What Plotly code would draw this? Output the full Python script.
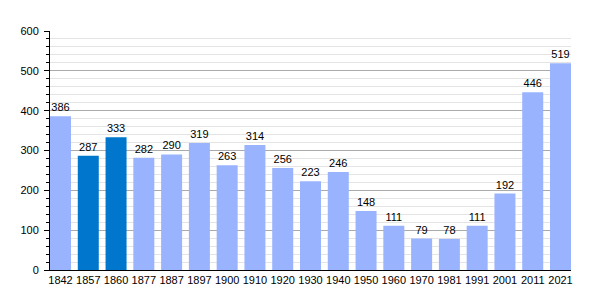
import plotly.graph_objects as go

years = ["1842","1857","1860","1877","1887","1897","1900","1910","1920","1930","1940","1950","1960","1970","1981","1991","2001","2011","2021"]
population = [386,287,333,282,290,319,263,314,256,223,246,148,111,79,78,111,192,446,519]
highlight = ["1857","1860"]

colors = ["#0077cc" if y in highlight else "#99b3ff" for y in years]
xs = list(range(len(years)))

fig = go.Figure(go.Bar(
    x=xs, y=population, marker=dict(color=colors, line=dict(width=0)),
    text=[str(v) for v in population], textposition="outside",
    textfont=dict(size=11, color="#000000", family="Liberation Sans, Arial, sans-serif"),
    cliponaxis=False, width=0.756,
))

fig.update_layout(
    width=600, height=300,
    margin=dict(l=50, r=29, t=31, b=30),
    paper_bgcolor="white", plot_bgcolor="white",
    showlegend=False,
    font=dict(family="Liberation Sans, Arial, sans-serif", size=11, color="#000000"),
    xaxis=dict(
        range=[-0.378, 18.378], tickmode="array", tickvals=xs, ticktext=years,
        showgrid=False, showline=True, linecolor="#000000", linewidth=1,
        ticks="", zeroline=False, fixedrange=True, tickfont=dict(size=11),
    ),
    yaxis=dict(
        range=[0, 600], dtick=100, showgrid=True, gridcolor="#aaaaaa", gridwidth=1,
        showline=True, linecolor="#000000", linewidth=1, ticks="outside", ticklen=5,
        tickcolor="#000000", zeroline=False, tickfont=dict(size=11), ticklabelstandoff=3,
        minor=dict(dtick=20, showgrid=True, gridcolor="#e4e4e4", ticks="outside", ticklen=3, tickcolor="#000000"),
    ),
)

fig.write_html("out.html")
